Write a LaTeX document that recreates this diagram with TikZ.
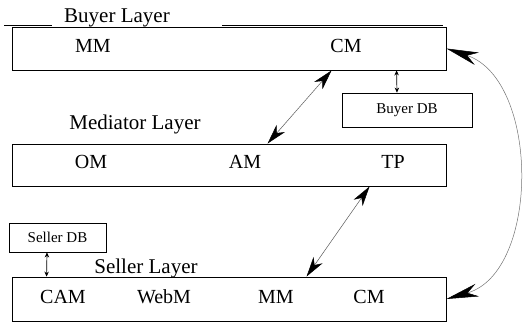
\documentclass[tikz,border=0pt]{standalone}
\usepackage{fontspec}
\setmainfont{Liberation Serif}
\usetikzlibrary{arrows.meta}

\tikzset{
 layerbox/.style={draw, line width=.9pt, minimum width=434pt, inner sep=0pt},
 dbbox/.style={draw, line width=.8pt, inner sep=0pt},
 modname/.style={anchor=base, inner sep=0pt, font=\fontsize{20}{24}\selectfont},
 layername/.style={anchor=base, inner sep=0pt, font=\fontsize{21}{25}\selectfont},
 dbname/.style={font=\fontsize{15}{18}\selectfont},
 link/.style={draw=black!65, line width=.5pt, {Stealth[length=20pt,width=11pt,inset=6pt,black]}-{Stealth[length=20pt,width=11pt,inset=6pt,black]}},
 dblink/.style={draw=black, line width=.7pt, {Stealth[length=5pt,width=4.5pt]}-{Stealth[length=5pt,width=4.5pt]}},
 bigarc/.style={draw=black!55, line width=.5pt, {Stealth[length=32pt,width=13pt,inset=10pt,black]}-{Stealth[length=32pt,width=13pt,inset=10pt,black]}}
}

\begin{document}
\begin{tikzpicture}[x=1pt, y=-1pt]
\useasboundingbox (0,0) rectangle (523,322);

% buyer layer
\node[layerbox, minimum height=43pt] (buyer) at (229,48.5) {};
\draw[line width=.8pt] (4,25) -- (52,25);
\draw[line width=.8pt] (222,25) -- (443,25);
\node[layername] (buyerlbl) at (117,22) {Buyer Layer};
\node[modname] (bmm) at (93,52) {MM};
\node[modname] (bcm) at (346,52) {CM};
\node[dbbox, dbname, minimum width=130pt, minimum height=34pt] (buyerdb) at (407,110) {Buyer DB};

% mediator layer
\node[layername] (medlbl) at (135,129) {Mediator Layer};
\node[layerbox, minimum height=42pt] (mediator) at (229,165) {};
\node[modname] (om) at (91,168) {OM};
\node[modname] (am) at (245,168) {AM};
\node[modname] (tp) at (393,168) {TP};

% seller layer
\node[dbbox, dbname, minimum width=97pt, minimum height=29pt] (sellerdb) at (57.5,237.5) {Seller DB};
\node[layername] (sellerlbl) at (146,273) {Seller Layer};
\node[layerbox, minimum height=44pt] (seller) at (229,299) {};
\node[modname] (cam) at (63,303) {CAM};
\node[modname] (webm) at (164,303) {WebM};
\node[modname] (smm) at (276,303) {MM};
\node[modname] (scm) at (369,303) {CM};

% links
\draw[dblink] ([xshift=385pt]buyer.south west) -- ([xshift=-10pt]buyerdb.north);
\draw[dblink] ([xshift=-10.5pt]sellerdb.south) -- ([xshift=35pt]seller.north west);
\draw[link] ([xshift=320pt]buyer.south west) -- ([xshift=256pt]mediator.north west);
\draw[link] ([xshift=358pt]mediator.south west) -- ([xshift=295pt]seller.north west);
\draw[bigarc] (seller.east) .. controls (540,272) and (540,80) .. (buyer.east);

\end{tikzpicture}
\end{document}
